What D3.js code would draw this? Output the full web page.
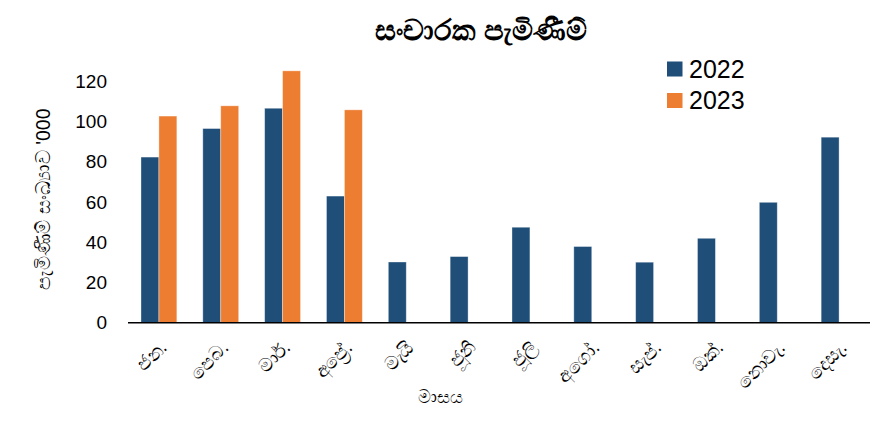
<!DOCTYPE html>
<html>
<head>
<meta charset="utf-8">
<script src="https://cdn.jsdelivr.net/npm/d3@7"></script>
<style>
  body { margin: 0; background: #fff; }
  svg { font-family: "Liberation Sans", "Noto Sans", sans-serif; }
</style>
</head>
<body>
<svg width="879" height="427"></svg>
<script>
// chart data
var months = ["ජන.", "පෙබ.", "මාර්.", "අප්‍රේ.", "මැයි", "ජූනි", "ජූලි", "අගෝ.", "සැප්.", "ඔක්.", "නොවැ.", "දෙසැ."];
var years = ["2022", "2023"];
var arrivals2022 = [82.4, 96.6, 106.7, 63.0, 30.2, 32.9, 47.5, 37.9, 30.1, 42.0, 59.9, 92.3];
var arrivals2023 = [102.8, 107.9, 125.3, 105.9];
var yTicks = [0, 20, 40, 60, 80, 100, 120];
var colors = ["#1f4e79", "#ed7d31"];

(function() {
  var svg = d3.select("svg");

  var rows = months.map(function(m, i) {
    return { month: m, values: [arrivals2022[i], arrivals2023[i]] };
  });

  var x = d3.scaleBand()
      .domain(months)
      .range([128, 870])
      .paddingInner(0.42)
      .paddingOuter(0.21);

  var x1 = d3.scaleBand()
      .domain(years)
      .range([0, x.bandwidth()]);

  var y = d3.scaleLinear()
      .domain([0, 120])
      .range([322.7, 81.5]);

  var color = d3.scaleOrdinal().domain(years).range(colors);

  // bars
  var groups = svg.append("g")
    .selectAll("g")
    .data(rows)
    .enter().append("g")
      .attr("transform", function(d) { return "translate(" + x(d.month) + ",0)"; });

  groups.selectAll("rect")
    .data(function(d) {
      return years.map(function(yr, j) { return { year: yr, value: d.values[j] }; })
        .filter(function(e) { return e.value != null; });
    })
    .enter().append("rect")
      .attr("x", function(d) { return x1(d.year); })
      .attr("width", x1.bandwidth())
      .attr("y", function(d) { return y(d.value); })
      .attr("height", function(d) { return y(0) - y(d.value); })
      .attr("fill", function(d) { return color(d.year); })
      .attr("stroke", "#fff")
      .attr("stroke-opacity", 0.45)
      .attr("stroke-width", 0.8);

  // y axis (labels only)
  var yAxis = svg.append("g")
      .attr("transform", "translate(107,0)")
      .call(d3.axisLeft(y).tickValues(yTicks).tickSize(0).tickPadding(0));
  yAxis.select(".domain").remove();
  yAxis.selectAll("text")
      .attr("font-size", 19)
      .attr("font-family", "Liberation Sans, sans-serif")
      .attr("fill", "#000");

  // x axis
  var xAxis = svg.append("g")
      .attr("transform", "translate(0," + y(0) + ")")
      .call(d3.axisBottom(x).tickSize(0).tickPadding(0));
  xAxis.select(".domain")
      .attr("stroke", "#000")
      .attr("stroke-width", 1.6)
      .attr("d", "M" + x.range()[0] + ",0H" + x.range()[1]);
  xAxis.selectAll("text")
      .attr("font-size", 19)
      .attr("fill", "#000")
      .attr("text-anchor", "end")
      .attr("dy", 0)
      .attr("transform", "translate(9,26) rotate(-45)");

  // titles
  svg.append("text")
      .attr("x", 481)
      .attr("y", 40)
      .attr("text-anchor", "middle")
      .attr("font-size", 29)
      .attr("font-weight", "bold")
      .attr("fill", "#000")
      .text("සංචාරක පැමිණීම්");

  svg.append("text")
      .attr("transform", "translate(50,199) rotate(-90)")
      .attr("text-anchor", "middle")
      .attr("font-size", 19.5)
      .attr("fill", "#000")
      .text("පැමිණීම් සංඛ්‍යාව '000");

  svg.append("text")
      .attr("x", 440)
      .attr("y", 403)
      .attr("text-anchor", "middle")
      .attr("font-size", 18)
      .attr("fill", "#000")
      .text("මාසය");

  // legend
  var legend = svg.append("g")
    .selectAll("g")
    .data(years)
    .enter().append("g")
      .attr("transform", function(d, i) { return "translate(667," + (61.5 + i * 31.5) + ")"; });

  legend.append("rect")
      .attr("width", 15.5)
      .attr("height", 15)
      .attr("fill", function(d) { return color(d); });

  legend.append("text")
      .attr("x", 22)
      .attr("y", 16)
      .attr("font-size", 25)
      .attr("fill", "#000")
      .text(function(d) { return d; });
})();
</script>
</body>
</html>
